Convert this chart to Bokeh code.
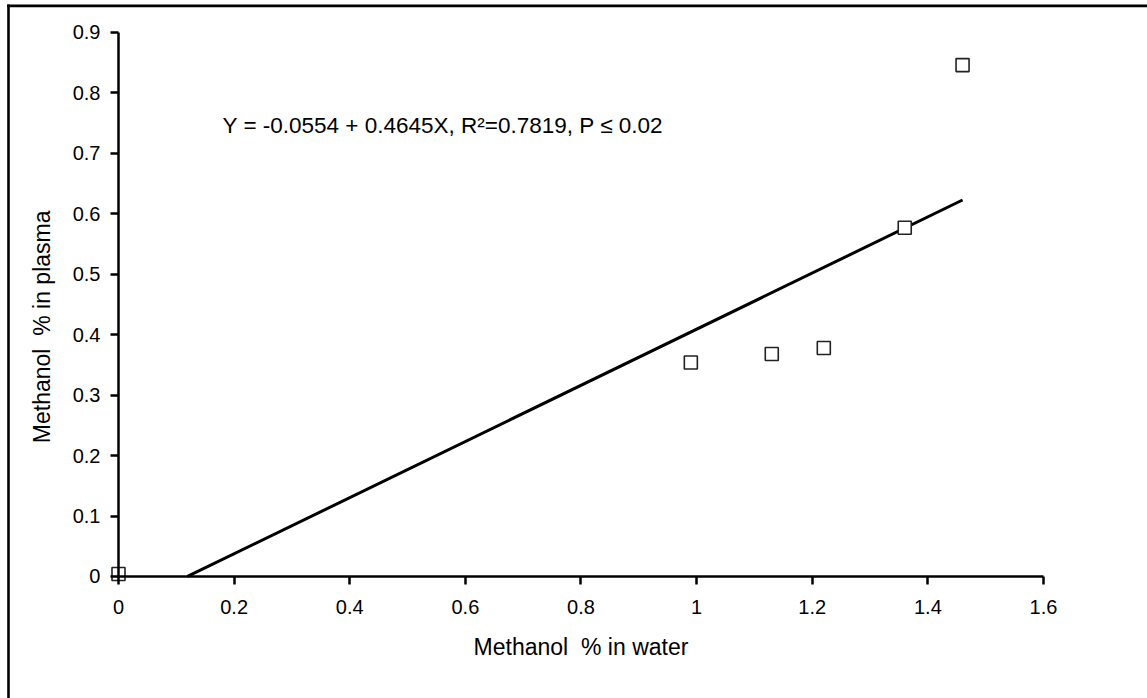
import math
from bokeh.plotting import figure
from bokeh.models import Range1d, LinearAxis, FixedTicker, Label, BoxAnnotation
from bokeh.embed import file_html
from bokeh.resources import INLINE

# Data
water_pct = [0.0, 0.99, 1.13, 1.22, 1.36, 1.46]
plasma_pct = [0.004, 0.354, 0.368, 0.378, 0.577, 0.846]
fit_x = [0.1193, 1.46]
fit_y = [0.0, 0.6228]
x_ticks = [0, 0.2, 0.4, 0.6, 0.8, 1.0, 1.2, 1.4, 1.6]
x_tick_labels = ["0", "0.2", "0.4", "0.6", "0.8", "1", "1.2", "1.4", "1.6"]
y_ticks = [0, 0.1, 0.2, 0.3, 0.4, 0.5, 0.6, 0.7, 0.8, 0.9]
y_tick_labels = ["0", "0.1", "0.2", "0.3", "0.4", "0.5", "0.6", "0.7", "0.8", "0.9"]
equation = "Y = -0.0554 + 0.4645X, R\u00b2=0.7819, P \u2264 0.02"
x_title = "Methanol\u00a0 % in water"
y_title = "Methanol\u00a0 % in plasma"

FONT = "Liberation Sans"
W, H = 1147, 698

# frame covers the whole canvas; axes are fixed at 0 inside it
p = figure(width=W, height=H,
           x_range=Range1d(-0.2041, 1.7799), y_range=Range1d(-0.2019, 0.9529),
           output_backend="svg", toolbar_location=None,
           x_axis_location=None, y_axis_location=None,
           min_border=0)
p.grid.visible = False
p.outline_line_color = None
p.background_fill_color = "white"
p.border_fill_color = "white"

def style_axis(ax, ticks, labels, title):
    ax.ticker = FixedTicker(ticks=ticks)
    ax.major_label_overrides = {t: l for t, l in zip(ticks, labels)}
    ax.axis_label = title
    ax.axis_label_text_font = FONT
    ax.axis_label_text_font_size = "23px"
    ax.axis_label_text_font_style = "normal"
    ax.axis_label_text_color = "black"
    ax.major_label_text_font = FONT
    ax.major_label_text_font_size = "20px"
    ax.major_label_text_color = "black"
    ax.axis_line_width = 2.5
    ax.axis_line_color = "black"
    ax.major_tick_line_width = 2.5
    ax.major_tick_line_color = "black"
    ax.major_tick_in = 0
    ax.major_tick_out = 8
    ax.minor_tick_line_color = None

xaxis = LinearAxis(fixed_location=0, bounds=(0, 1.6))
style_axis(xaxis, x_ticks, x_tick_labels, x_title)
xaxis.major_label_standoff = 16
xaxis.axis_label_standoff = 16
p.add_layout(xaxis, "below")

yaxis = LinearAxis(fixed_location=0, bounds=(0, 0.9))
style_axis(yaxis, y_ticks, y_tick_labels, None)
yaxis.axis_label = None
yaxis.major_label_standoff = 10
p.add_layout(yaxis, "left")

# y-axis title, placed like the original (a little below the axis middle)
p.add_layout(Label(x=-0.1315, y=0.413, text=y_title, angle=math.pi / 2,
                   text_font=FONT, text_font_size="23px", text_color="black",
                   text_align="center", text_baseline="middle"))

p.line(fit_x, fit_y, line_color="black", line_width=3)
p.scatter(water_pct, plasma_pct, marker="square", size=13,
          fill_color="white", line_color="#222222", line_width=1.6)

p.add_layout(Label(x=0.18, y=0.746, text=equation, text_font=FONT,
                   text_font_size="22.5px", text_color="black",
                   text_baseline="alphabetic"))

# page frame border (left and top)
p.add_layout(BoxAnnotation(left=6.7, right=9.3, top=4, bottom=H,
                           left_units="canvas", right_units="canvas",
                           top_units="canvas", bottom_units="canvas",
                           fill_color="black", fill_alpha=1, line_color=None))
p.add_layout(BoxAnnotation(left=6.7, right=W, top=4, bottom=6.7,
                           left_units="canvas", right_units="canvas",
                           top_units="canvas", bottom_units="canvas",
                           fill_color="black", fill_alpha=1, line_color=None))

open("out.html", "w").write(file_html(p, INLINE))
